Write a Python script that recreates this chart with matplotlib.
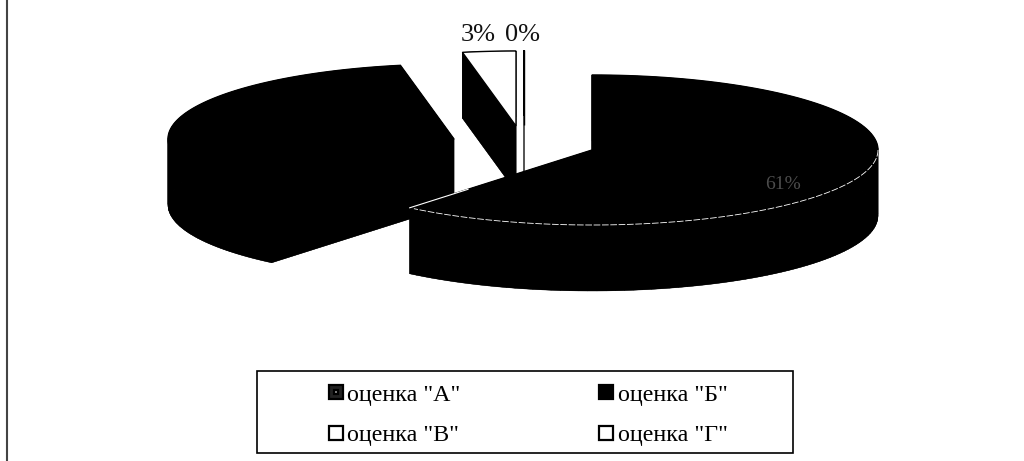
import numpy as np
import matplotlib
matplotlib.use("Agg")
import matplotlib.pyplot as plt
from matplotlib.lines import Line2D
from matplotlib.patches import Rectangle
from matplotlib.legend_handler import HandlerTuple

categories = ['оценка "А"', 'оценка "Б"', 'оценка "В"', 'оценка "Г"']
values = [61, 36, 3, 0]
pct_labels = ["61%", "", "3%", "0%"]

# pie geometry in pixels, the axes run 1:1 with the image
RX, RY = 286, 75
DEPTH = 66
CENTERS = [(592, 150), (454, 139), (516, 126), (524, 125)]


def rim(start, end, n=120):
    # angles are clockwise from 12 o'clock, in percent of the pie
    a = np.radians(np.linspace(start, end, n) * 3.6)
    return RX * np.sin(a), -RY * np.cos(a)


def draw_slice(ax, center, start, end, top_color, z):
    cx, cy = center
    x, y = rim(start, end)
    px = np.concatenate([[cx], cx + x])
    py = np.concatenate([[cy], cy + y])
    # extrude: bottom, then a quad for every outline segment, then the top
    ax.fill(px, py + DEPTH, color="black", lw=0, zorder=z)
    for i in range(len(px)):
        j = (i + 1) % len(px)
        ax.fill([px[i], px[j], px[j], px[i]],
                [py[i], py[j], py[j] + DEPTH, py[i] + DEPTH],
                color="black", lw=0.3, zorder=z)
    ax.fill(px, py, facecolor=top_color, edgecolor="black", lw=1.0, zorder=z + 0.5)


plt.rcParams["font.family"] = ["Liberation Serif", "DejaVu Sans"]
fig = plt.figure(figsize=(10.24, 4.61), dpi=100)
ax = fig.add_axes([0, 0, 1, 1])
ax.set_xlim(0, 1024)
ax.set_ylim(461, 0)
ax.axis("off")

# only the left side of the frame survived the scan
ax.plot([7, 7], [0, 461], color="#444444", lw=1.5)

starts = np.concatenate([[0], np.cumsum(values)[:-1]])
ends = np.cumsum(values)
top_colors = ["black", "black", "white", "white"]
z_order = [5, 2, 3, 4]
for k in [1, 2, 3, 0]:
    draw_slice(ax, CENTERS[k], starts[k], ends[k], top_colors[k], z_order[k])

# thin white line between top and side of the big slice
cx, cy = CENTERS[0]
x, y = rim(starts[0] + 25, ends[0] - 0.3)
ax.plot(cx + x, cy + y, color="white", lw=0.6, ls=(0, (8, 2)), zorder=6)
x, y = rim(ends[0], ends[0], 2)
ax.plot([cx + x[0], cx + 0.68 * x[0]], [cy + y[0], cy + 0.68 * y[0]],
        color="white", lw=0.8, zorder=6)

# the big label is almost lost on the black
ax.text(783, 184, pct_labels[0], color="white", alpha=0.3, fontsize=14,
        ha="center", va="center", zorder=7)
ax.text(478, 35, pct_labels[2], fontsize=19, ha="center", va="center", color="#111111")
ax.text(523, 35, pct_labels[3], fontsize=19, ha="center", va="center", color="#111111")

# legend frame
ax.add_patch(Rectangle((257, 371), 536, 82, facecolor="white", edgecolor="black", lw=1.2))


def square(face, size=10):
    return Line2D([], [], ls="", marker="s", markersize=size, markerfacecolor=face,
                  markeredgecolor="black", markeredgewidth=1.6)


handles = [(square("#222222"), square("#999999", 3)), square("black"),
           square("white"), square("white")]
# matplotlib fills columns first, so the order is А, В, Б, Г
order = [0, 2, 1, 3]
leg = ax.legend([handles[i] for i in order], [categories[i] for i in order],
                ncol=2, loc="upper left", bbox_to_anchor=(327 / 1024, 1 - 384 / 461),
                fontsize=17.3, frameon=False, handlelength=0.72, handletextpad=0.12,
                columnspacing=5.7, labelspacing=0.78, borderpad=0, borderaxespad=0,
                handler_map={tuple: HandlerTuple(ndivide=1, pad=0)})

fig.savefig("out.png", dpi=100)
